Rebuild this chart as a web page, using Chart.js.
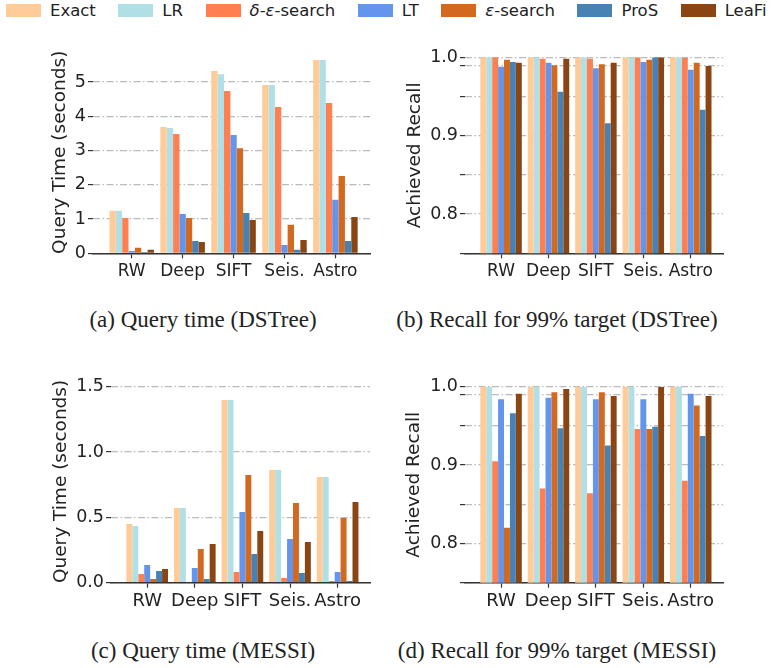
<!DOCTYPE html>
<html lang="en">
<head>
    <meta charset="UTF-8">
    <title>Query time and recall</title>
    <style>
        body {
            margin: 0;
            width: 772px;
            height: 668px;
            position: relative;
            overflow: hidden;
            background: #fff;
            font-family: "DejaVu Sans", sans-serif;
        }
        .legend {
            position: absolute;
            left: 6px;
            top: 0;
            height: 21px;
            display: flex;
            align-items: center;
            white-space: nowrap;
            font-size: 16.5px;
            color: #222;
        }
        .legend .item { display: flex; align-items: center; margin-right: 22.5px; }
        .legend .box { width: 35px; height: 12.5px; margin-right: 9px; }
        canvas { position: absolute; }
        .caption {
            position: absolute;
            font-family: "Liberation Serif", serif;
            font-size: 23px;
            color: #222;
            white-space: nowrap;
            transform: translate(-50%, -50%);
        }
    </style>
    <script src="https://cdn.jsdelivr.net/npm/chart.js"></script>
</head>
<body>
    <div class="legend" id="legend"></div>

    <canvas id="chartA" width="380" height="260" style="left:0; top:30px;"></canvas>
    <canvas id="chartB" width="392" height="260" style="left:380px; top:30px;"></canvas>
    <canvas id="chartC" width="380" height="260" style="left:0; top:360px;"></canvas>
    <canvas id="chartD" width="392" height="260" style="left:380px; top:360px;"></canvas>

    <div class="caption" style="left:203px; top:320px;">(a) Query time (DSTree)</div>
    <div class="caption" style="left:557px; top:320px;">(b) Recall for 99% target (DSTree)</div>
    <div class="caption" style="left:203px; top:651px;">(c) Query time (MESSI)</div>
    <div class="caption" style="left:557px; top:651px;">(d) Recall for 99% target (MESSI)</div>

    <script>
        const datasetNames = ['RW', 'Deep', 'SIFT', 'Seis.', 'Astro'];
        const methods = ['Exact', 'LR', '<i>δ</i>-<i>ε</i>-search', 'LT', '<i>ε</i>-search', 'ProS', 'LeaFi'];
        const methodLabels = ['Exact', 'LR', 'δ-ε-search', 'LT', 'ε-search', 'ProS', 'LeaFi'];
        const colors = ['#FFCC99', '#B0E0E6', '#FF7F50', '#6495ED', '#D2691E', '#4682B4', '#8B4513'];

        // rows follow methods order: Exact, LR, δ-ε-search, LT, ε-search, ProS, LeaFi
        const dstreeTime = [
            [1.24, 3.69, 5.32, 4.91, 5.64],
            [1.24, 3.66, 5.23, 4.91, 5.64],
            [1.03, 3.48, 4.74, 4.27, 4.39],
            [0.07, 1.15, 3.45, 0.24, 1.56],
            [0.16, 1.03, 3.07, 0.83, 2.26],
            [0.04, 0.36, 1.18, 0.10, 0.36],
            [0.10, 0.33, 0.97, 0.39, 1.06]
        ];
        const dstreeRecall = [
            [1.0, 1.0, 1.0, 1.0, 1.0],
            [1.0, 1.0, 1.0, 1.0, 1.0],
            [1.0, 0.998, 0.998, 1.0, 0.999],
            [0.988, 0.993, 0.986, 0.994, 0.984],
            [0.997, 0.990, 0.991, 0.997, 0.993],
            [0.994, 0.956, 0.916, 1.0, 0.933],
            [0.993, 0.998, 0.993, 1.0, 0.989]
        ];
        const messiTime = [
            [0.449, 0.571, 1.398, 0.862, 0.809],
            [0.434, 0.571, 1.398, 0.862, 0.809],
            [0.066, 0.005, 0.082, 0.036, 0.013],
            [0.135, 0.112, 0.541, 0.334, 0.082],
            [0.028, 0.258, 0.824, 0.610, 0.495],
            [0.089, 0.028, 0.219, 0.074, 0.013],
            [0.105, 0.296, 0.395, 0.311, 0.617]
        ];
        const messiRecall = [
            [1.0, 1.0, 1.0, 1.0, 1.0],
            [1.0, 1.0, 1.0, 1.0, 1.0],
            [0.905, 0.870, 0.864, 0.946, 0.880],
            [0.984, 0.986, 0.984, 0.984, 0.991],
            [0.820, 0.993, 0.993, 0.946, 0.976],
            [0.966, 0.947, 0.925, 0.949, 0.937],
            [0.991, 0.997, 0.988, 1.0, 0.988]
        ];

        const dstreeTimeTicks = [0, 1, 2, 3, 4, 5];
        const messiTimeTicks = [0, 0.5, 1.0, 1.5];
        const recallTicks = [0.75, 0.8, 0.85, 0.9, 0.95, 0.99, 1.0];
        const recallLabelled = [0.8, 0.9, 1.0];

        // legend
        const legend = document.getElementById('legend');
        methods.forEach((m, k) => {
            const item = document.createElement('div');
            item.className = 'item';
            item.innerHTML = `<div class="box" style="background:${colors[k]}"></div><span>${m}</span>`;
            legend.appendChild(item);
        });

        const dash = [7, 2.5, 1.5, 2.5];

        function makeChart(id, series, o) {
            const ctx = document.getElementById(id).getContext('2d');
            return new Chart(ctx, {
                type: 'bar',
                data: {
                    datasets: methodLabels.map((m, k) => ({
                        label: m,
                        data: series[k].map((v, i) => ({ x: i, y: v })),
                        backgroundColor: colors[k],
                        borderWidth: 0,
                        categoryPercentage: 0.875,
                        barPercentage: 1.0
                    }))
                },
                options: {
                    responsive: false,
                    animation: false,
                    layout: { padding: { top: o.padTop, right: o.padRight, left: 0, bottom: 0 } },
                    plugins: { legend: { display: false }, tooltip: { enabled: false } },
                    scales: {
                        x: {
                            type: 'linear',
                            offset: false,
                            min: -0.76,
                            max: 4.68,
                            afterBuildTicks: s => { s.ticks = datasetNames.map((_, i) => ({ value: i })); },
                            afterFit: s => { s.height = o.xHeight; },
                            grid: { offset: false, drawOnChartArea: false, drawTicks: true, tickLength: 5, tickColor: '#333', tickWidth: 1.2 },
                            border: { display: true, color: '#333', width: 1.5 },
                            ticks: {
                                callback: v => datasetNames[v],
                                autoSkip: false,
                                maxRotation: 0,
                                padding: o.xPad,
                                color: '#222',
                                font: { family: 'DejaVu Sans', size: o.xFont }
                            }
                        },
                        y: {
                            min: o.yMin,
                            max: o.yMax,
                            afterBuildTicks: s => { s.ticks = o.yTicks.map(v => ({ value: v })); },
                            afterFit: s => { s.width = o.yWidth; },
                            grid: {
                                color: 'rgba(150,150,150,0.65)',
                                lineWidth: 1.2,
                                drawTicks: true,
                                tickLength: 5,
                                tickColor: '#333',
                                tickWidth: 1.2,
                                tickBorderDash: []
                            },
                            border: { display: false, dash: dash },
                            ticks: {
                                callback: o.yLabel,
                                padding: 2,
                                color: '#222',
                                font: { family: 'DejaVu Sans', size: 17.5 }
                            },
                            title: {
                                display: true,
                                text: o.title,
                                color: '#222',
                                font: { family: 'DejaVu Sans', size: 18.5 },
                                padding: { top: o.titlePad, bottom: 0 }
                            }
                        }
                    }
                }
            });
        }

        const recallLabel = v => recallLabelled.some(t => Math.abs(t - v) < 1e-9) ? v.toFixed(1) : '';

        makeChart('chartA', dstreeTime, {
            padTop: 21.2, padRight: 10, xHeight: 36.7, yWidth: 93, xPad: 3, xFont: 17,
            yMin: 0, yMax: 5.9, yTicks: dstreeTimeTicks, yLabel: v => String(v),
            title: 'Query Time (seconds)', titlePad: 48.9
        });
        makeChart('chartB', dstreeRecall, {
            padTop: 27.3, padRight: 49, xHeight: 36.7, yWidth: 85, xPad: 3, xFont: 17,
            yMin: 0.75, yMax: 1.0, yTicks: recallTicks, yLabel: recallLabel,
            title: 'Achieved Recall', titlePad: 23.9
        });
        makeChart('chartC', messiTime, {
            padTop: 20.2, padRight: 10, xHeight: 37.3, yWidth: 111, xPad: 2.5, xFont: 18,
            yMin: 0, yMax: 1.55, yTicks: messiTimeTicks, yLabel: v => v.toFixed(1),
            title: 'Query Time (seconds)', titlePad: 49.9
        });
        makeChart('chartD', messiRecall, {
            padTop: 26.7, padRight: 49, xHeight: 37.3, yWidth: 85, xPad: 2.5, xFont: 18,
            yMin: 0.75, yMax: 1.0, yTicks: recallTicks, yLabel: recallLabel,
            title: 'Achieved Recall', titlePad: 23.4
        });
    </script>
</body>
</html>
